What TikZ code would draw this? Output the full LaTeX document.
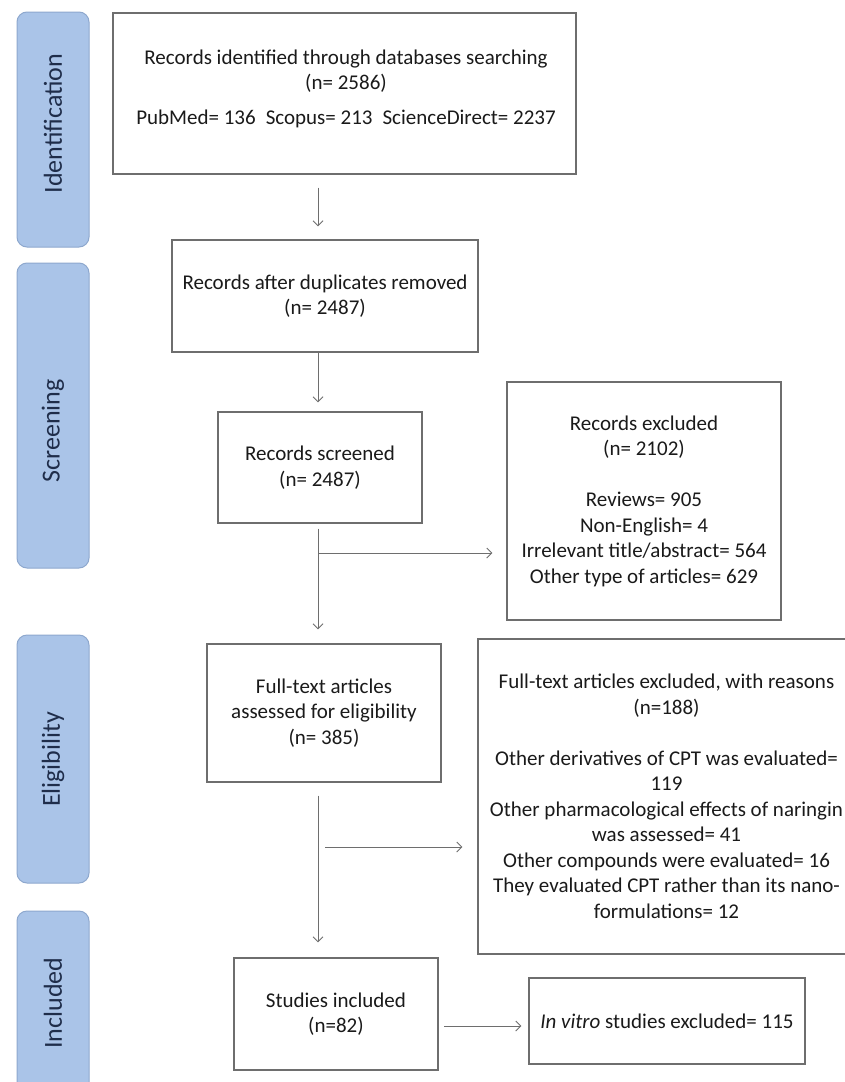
\documentclass[tikz,border=0pt]{standalone}
\usepackage{fontspec}
\setmainfont{Carlito}
\usetikzlibrary{arrows.meta}
\definecolor{lineg}{HTML}{6E6E6E}
\definecolor{sidefill}{HTML}{AAC4E8}
\definecolor{sidedraw}{HTML}{8EA8CE}
\definecolor{sidetext}{HTML}{1F2D4A}
\definecolor{txt}{HTML}{1A1A1A}
\begin{document}
\begin{tikzpicture}[x=1pt,y=-1pt,
  box/.style={draw=lineg, line width=1.1pt, rectangle, align=center, inner sep=0pt,
    text=txt, font=\fontsize{21}{25.5}\selectfont},
  side/.style={draw=sidedraw, fill=sidefill, line width=1pt, rounded corners=10pt,
    inner sep=0pt, minimum width=72},
  sidelabel/.style={rotate=90, inner sep=0pt, text=sidetext, font=\fontsize{26}{30}\selectfont},
  arr/.style={draw=lineg, line width=1pt, -{Straight Barb[length=5pt,width=10pt]}}]
\clip (0,0) rectangle (845,1082);
\fill[white] (0,0) rectangle (845,1082);
% side labels
\node[side, minimum height=235] (s1) at (53,129.5) {};
\node[side, minimum height=305] (s2) at (53,415.5) {};
\node[side, minimum height=248] (s3) at (53,759) {};
\node[side, minimum height=189] (s4) at (53,1005.5) {};
\node[sidelabel] (l1) at (53,123.5) {Identification};
\node[sidelabel] (l2) at (53,431) {Screening};
\node[sidelabel] (l3) at (53,759.5) {Eligibility};
\node[sidelabel] (l4) at (53,1003) {Included};
% boxes
\node[box, minimum width=463, minimum height=161] (b1) at (344.5,93.5) {};
\node[align=center, text=txt, font=\fontsize{21}{25.5}\selectfont, inner sep=0pt] (t1) at (346,89)
  {Records identified through databases searching\\(n= 2586)\\[9.5pt]PubMed= 136\hspace{10pt}Scopus= 213\hspace{10pt}ScienceDirect= 2237};
\node[box, minimum width=306, minimum height=112] (b2) at (325,296) {Records after duplicates removed\\(n= 2487)};
\node[box, minimum width=204, minimum height=111] (b3) at (320,467.5) {Records screened\\(n= 2487)};
\node[box, minimum width=274, minimum height=238] (b4) at (644,501)
  {Records excluded\\(n= 2102)\\[25.5pt]Reviews= 905\\Non-English= 4\\Irrelevant title/abstract= 564\\Other type of articles= 629};
\node[box, minimum width=234, minimum height=138] (b5) at (324,713)
  {Full-text articles\\assessed for eligibility\\(n= 385)};
\node[box, minimum width=377, minimum height=315] (b6) at (666.5,796.5)
  {Full-text articles excluded, with reasons\\(n=188)\\[25.5pt]Other derivatives of CPT was evaluated=\\119\\Other pharmacological effects of naringin\\was assessed= 41\\Other compounds were evaluated= 16\\They evaluated CPT rather than its nano-\\formulations= 12};
\node[box, minimum width=204, minimum height=112] (b7) at (336,1014) {Studies included\\(n=82)};
\node[box, minimum width=276, minimum height=86] (b8) at (667,1021) {\textit{In vitro} studies excluded= 115};
% connectors
\coordinate (ax) at (318,0);
\coordinate (br1) at (318,553);
\coordinate (br2) at (325,847);
\coordinate (br3) at (444,1026);
\draw[arr] ([yshift=-13pt]b1.south -| ax) -- ([yshift=13pt]b2.north -| ax);
\draw[arr] (b2.south -| ax) -- ([yshift=9pt]b3.north -| ax);
\draw[arr] ([yshift=-5pt]b3.south -| ax) -- ([yshift=14pt]b5.north -| ax);
\draw[arr] (br1) -- ([xshift=-14pt]br1 -| b4.west);
\draw[arr] ([yshift=-13pt]b5.south -| ax) -- ([yshift=15pt]b7.north -| ax);
\draw[arr] (br2) -- ([xshift=-15pt]br2 -| b6.west);
\draw[arr] (br3) -- ([xshift=-7pt]br3 -| b8.west);
\end{tikzpicture}
\end{document}
